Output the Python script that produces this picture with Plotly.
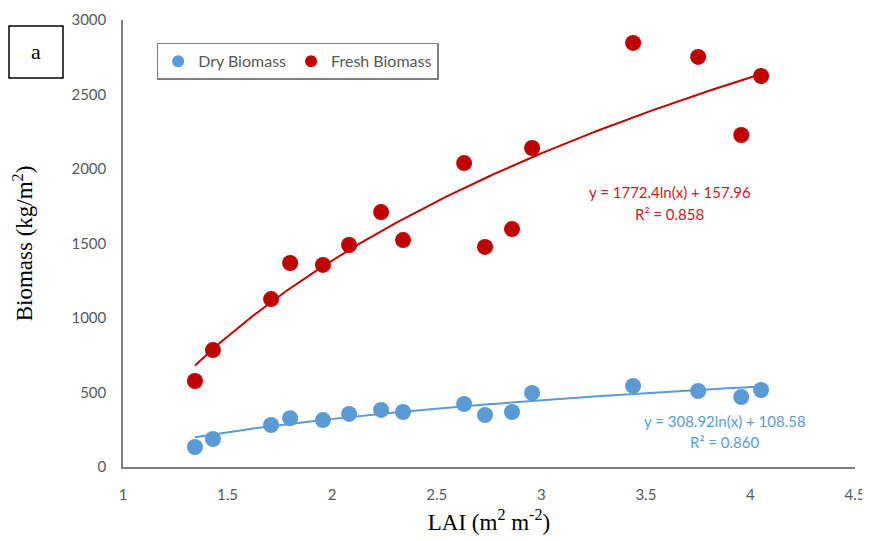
import numpy as np
import plotly.graph_objects as go

# ---- data ----
lai = [1.344, 1.430, 1.708, 1.799, 1.956, 2.081, 2.234, 2.339, 2.631, 2.731, 2.860, 2.956, 3.439, 3.750, 3.956, 4.051]
fresh_biomass = [577, 785, 1127, 1369, 1356, 1490, 1711, 1523, 2040, 1477, 1597, 2141, 2846, 2752, 2228, 2624]
dry_biomass = [134, 188, 282, 328, 315, 356, 383, 369, 423, 349, 369, 497, 544, 510, 470, 517]

fresh_coef = (1772.4, 157.96)
dry_coef = (308.92, 108.58)
fresh_eq = "y = 1772.4ln(x) + 157.96"
fresh_r2 = "R² = 0.858"
dry_eq = "y = 308.92ln(x) + 108.58"
dry_r2 = "R² = 0.860"

x_ticks = [1, 1.5, 2, 2.5, 3, 3.5, 4, 4.5]
y_ticks = [0, 500, 1000, 1500, 2000, 2500, 3000]

BLUE = "#5B9BD5"
RED = "#C00000"
SANS = "Lato, Carlito, Calibri, sans-serif"
SERIF = "Liberation Serif, Times New Roman, serif"
TICKFONT = dict(family=SANS, size=15, color="#595959")

xs = np.linspace(min(lai), max(lai), 200)
fresh_fit = fresh_coef[0] * np.log(xs) + fresh_coef[1]
dry_fit = dry_coef[0] * np.log(xs) + dry_coef[1]

fig = go.Figure()
fig.add_trace(go.Scatter(x=xs, y=dry_fit, mode="lines", line=dict(color=BLUE, width=2), showlegend=False, hoverinfo="skip"))
fig.add_trace(go.Scatter(x=xs, y=fresh_fit, mode="lines", line=dict(color=RED, width=2), showlegend=False, hoverinfo="skip"))
fig.add_trace(go.Scatter(x=lai, y=dry_biomass, mode="markers", name="Dry Biomass",
                         marker=dict(color=BLUE, size=16)))
fig.add_trace(go.Scatter(x=lai, y=fresh_biomass, mode="markers", name="Fresh Biomass",
                         marker=dict(color=RED, size=16)))

fig.update_layout(
    width=862, height=533,
    margin=dict(l=115, r=15, t=12, b=74),
    paper_bgcolor="white", plot_bgcolor="white",
    showlegend=True,
    legend=dict(orientation="h", x=0.046, y=0.949, xanchor="left", yanchor="top",
                bordercolor="#7F7F7F", borderwidth=1.5, itemsizing="constant",
                font=dict(family=SANS, size=16, color="#595959"),
                itemwidth=30, traceorder="normal"),
    xaxis=dict(range=[1, 4.5], tickvals=x_ticks, ticktext=[str(t) for t in x_ticks],
               showgrid=False, zeroline=False, showline=True, linecolor="#7F7F7F", linewidth=1.5,
               ticks="", tickfont=TICKFONT, ticklabelstandoff=13, automargin=False,
               title=dict(text="LAI (m<sup>2</sup> m<sup>-2</sup>)",
                          font=dict(family=SERIF, size=23, color="black"),
                          standoff=12)),
    yaxis=dict(range=[0, 3000], tickvals=y_ticks,
               showgrid=False, zeroline=False, showline=True, linecolor="#7F7F7F", linewidth=1.5,
               ticks="", tickfont=TICKFONT, ticklabelstandoff=12, automargin=False,
               title=dict(text="Biomass (kg/m<sup>2</sup>)",
                          font=dict(family=SERIF, size=23, color="black"),
                          standoff=32)),
)

eqfont_r = dict(family=SANS, size=15, color="#C8202A")
eqfont_b = dict(family=SANS, size=15, color="#5B9BD5")
for txt, xx, yy, f in [(fresh_eq, 0.747, 0.615, eqfont_r), (fresh_r2, 0.747, 0.566, eqfont_r),
                       (dry_eq, 0.822, 0.103, eqfont_b), (dry_r2, 0.822, 0.056, eqfont_b)]:
    fig.add_annotation(text=txt, x=xx, y=yy, xref="paper", yref="paper", showarrow=False, font=f,
                       xanchor="center", yanchor="middle")

# panel label box "a"
fig.add_shape(type="rect", xref="paper", yref="paper",
              x0=(9 - 123) / 732, x1=(63 - 123) / 732, y0=(467 - 78) / 447, y1=(467 - 26) / 447,
              line=dict(color="black", width=1.5), fillcolor="white")
fig.add_annotation(text="a", x=(36 - 123) / 732, y=(467 - 52) / 447, xref="paper", yref="paper",
                   xanchor="center", yanchor="middle",
                   showarrow=False, font=dict(family=SERIF, size=22, color="black"))

fig.write_html("out.html")
